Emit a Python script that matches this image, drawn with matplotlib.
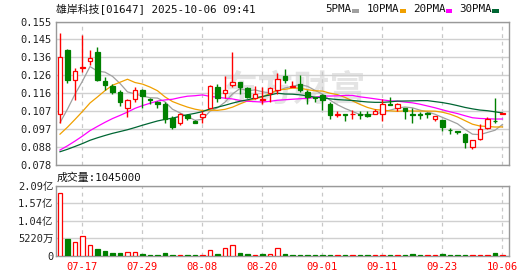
import matplotlib
matplotlib.use('Agg')
import matplotlib.pyplot as plt
import numpy as np
import pandas as pd
from matplotlib.patches import Rectangle

plt.rcParams['font.family'] = ['DejaVu Sans Mono', 'Noto Sans CJK SC']
plt.rcParams['font.size'] = 7.5

# daily candles 07-14 .. 10-06
opens = [0.1052, 0.1398, 0.1235, 0.1303, 0.1336, 0.1386, 0.1233, 0.1203, 0.1173, 0.1087,
         0.1132, 0.1185, 0.1135, 0.1119, 0.1105, 0.1034, 0.1007, 0.1047, 0.1016, 0.1039,
         0.1087, 0.1198, 0.1167, 0.1208, 0.1226, 0.1194, 0.1141, 0.1128, 0.1167, 0.1180,
         0.1256, 0.1199, 0.1215, 0.1173, 0.1144, 0.1153, 0.1105, 0.1048, 0.1052, 0.1052,
         0.1052, 0.1052, 0.1052, 0.1055, 0.1105, 0.1087, 0.1087, 0.1055, 0.1055, 0.1057,
         0.1029, 0.1023, 0.0968, 0.0960, 0.0945, 0.0878, 0.0919, 0.0981, 0.1018, 0.1055]
highs = [0.1487, 0.1402, 0.1301, 0.1478, 0.1398, 0.1413, 0.1254, 0.1217, 0.1180, 0.1135,
         0.1198, 0.1188, 0.1141, 0.1121, 0.1119, 0.1043, 0.1061, 0.1055, 0.1020, 0.1070,
         0.1208, 0.1212, 0.1256, 0.1386, 0.1226, 0.1198, 0.1206, 0.1198, 0.1198, 0.1274,
         0.1297, 0.1230, 0.1265, 0.1180, 0.1144, 0.1159, 0.1119, 0.1070, 0.1052, 0.1073,
         0.1070, 0.1070, 0.1079, 0.1132, 0.1144, 0.1114, 0.1087, 0.1084, 0.1066, 0.1066,
         0.1043, 0.1023, 0.0981, 0.0960, 0.0954, 0.0913, 0.1002, 0.1038, 0.1137, 0.1061]
lows = [0.1007, 0.1221, 0.1128, 0.1279, 0.1315, 0.1230, 0.1185, 0.1159, 0.1096, 0.1038,
        0.1119, 0.1087, 0.1105, 0.1087, 0.1007, 0.0972, 0.0993, 0.1020, 0.1006, 0.1004,
        0.1084, 0.1119, 0.1141, 0.1198, 0.1159, 0.1141, 0.1132, 0.1109, 0.1119, 0.1159,
        0.1221, 0.1198, 0.1173, 0.1109, 0.1119, 0.1073, 0.1029, 0.1038, 0.1016, 0.1025,
        0.1025, 0.1039, 0.1052, 0.1016, 0.1102, 0.1070, 0.1029, 0.1007, 0.1029, 0.1034,
        0.1016, 0.0960, 0.0949, 0.0949, 0.0869, 0.0865, 0.0913, 0.0972, 0.1006, 0.1052]
closes = [0.1358, 0.1235, 0.1286, 0.1308, 0.1354, 0.1235, 0.1208, 0.1173, 0.1118, 0.1127,
          0.1182, 0.1150, 0.1128, 0.1109, 0.1025, 0.0984, 0.1052, 0.1031, 0.1007, 0.1052,
          0.1203, 0.1141, 0.1183, 0.1226, 0.1198, 0.1146, 0.1162, 0.1132, 0.1194, 0.1244,
          0.1235, 0.1206, 0.1180, 0.1146, 0.1137, 0.1130, 0.1048, 0.1055, 0.1048, 0.1055,
          0.1048, 0.1041, 0.1070, 0.1109, 0.1102, 0.1105, 0.1070, 0.1048, 0.1046, 0.1055,
          0.1043, 0.0984, 0.0966, 0.0958, 0.0906, 0.0913, 0.0972, 0.1025, 0.1016, 0.1061]
# closes before 07-14 (estimated from where the MA lines start)
pre_close = [0.084, 0.083, 0.084, 0.083, 0.083, 0.084, 0.083, 0.083, 0.083, 0.083,
             0.078, 0.078, 0.077, 0.077, 0.078, 0.077, 0.077, 0.078, 0.077, 0.078,
             0.086, 0.087, 0.088, 0.090, 0.091, 0.087, 0.0886, 0.0956, 0.0965]

volume = [187e6, 51e6, 41e6, 58.6e6, 32e6, 20.5e6, 12.7e6, 8.8e6, 8.8e6, 11.7e6,
          11.7e6, 5.9e6, 2.9e6, 2.9e6, 8.8e6, 2.9e6, 2.9e6, 2.9e6, 2.9e6, 2.9e6,
          16.6e6, 5.9e6, 22.5e6, 31e6, 8.8e6, 5.9e6, 2.9e6, 5.9e6, 5.9e6, 22.5e6,
          5.9e6, 2.9e6, 2.9e6, 2.9e6, 2.9e6, 2.9e6, 2.9e6, 2.9e6, 2.9e6, 2.9e6,
          2.9e6, 2.9e6, 2.9e6, 2.9e6, 2.9e6, 2.9e6, 2.9e6, 5.9e6, 2.9e6, 2.9e6,
          2.9e6, 5.9e6, 2.9e6, 2.9e6, 2.9e6, 2.9e6, 2.9e6, 2.9e6, 8.8e6, 1.045e6]
# 1 = red bar, 0 = green bar
vol_up = [1, 0, 1, 1, 1, 0, 0, 0, 0, 1, 1, 0, 0, 0, 0, 0, 1, 0, 0, 1,
          1, 0, 1, 1, 0, 0, 1, 0, 1, 1, 0, 0, 0, 0, 0, 0, 0, 1, 0, 1,
          0, 0, 1, 1, 0, 1, 0, 0, 0, 1, 1, 0, 0, 0, 0, 1, 1, 1, 0, 1]

tick_pos = [3, 11, 19, 27, 35, 43, 51, 59]
tick_labels = ['07-17', '07-29', '08-08', '08-20', '09-01', '09-11', '09-23', '10-06']
price_ticks = [0.078, 0.088, 0.097, 0.107, 0.116, 0.126, 0.136, 0.145, 0.155]
vol_labels = ['0', '5220万', '1.04亿', '1.57亿', '2.09亿']

ma_periods = [5, 10, 20, 30]
ma_names = ['5PMA', '10PMA', '20PMA', '30PMA']
ma_colors = ['#a0a0a0', '#f0a000', '#ff00ff', '#006633']

RED = '#ff0000'
GREEN = '#008000'
W, H = 530, 276


def fx(px):
    return px / W


def fy(py):
    return 1 - py / H


n = len(closes)
x = np.arange(n)
o = np.array(opens)
c = np.array(closes)
up = c >= o
cols = [RED if u else GREEN for u in up]

fig = plt.figure(figsize=(W / 100, H / 100), dpi=100)
ax = fig.add_axes([fx(56), fy(165), (509 - 56) / W, (165 - 21.5) / H])
axv = fig.add_axes([fx(56), fy(255.5), (509 - 56) / W, (255.5 - 186) / H])

# watermark
ax.text(0.366, 0.52, '东方财富', transform=ax.transAxes, fontsize=26,
        family=['Noto Sans CJK SC'], weight='bold', color='#e4e4e4',
        va='center', ha='left', zorder=0.5)

# moving averages
full = pd.Series(pre_close + closes)
for p, col in zip(ma_periods, ma_colors):
    ma = full.rolling(p).mean().values[len(pre_close):]
    ax.plot(x, ma, color=col, lw=0.9, zorder=2)

# candles
ax.vlines(x, lows, highs, colors=cols, lw=1, zorder=3)
bottoms = np.minimum(o, c)
heights = np.maximum(np.abs(c - o), 0.0002)
ax.bar(x, heights, bottom=bottoms, width=0.66,
       color=['white' if u else GREEN for u in up],
       edgecolor=cols, linewidth=0.9, zorder=4)

# volume
vcols = [RED if u else GREEN for u in vol_up]
axv.bar(x, volume, width=0.6, color=['white' if u else GREEN for u in vol_up],
        edgecolor=vcols, linewidth=0.9, zorder=3)

for a in (ax, axv):
    a.set_xlim(-0.533, 59.87)
    a.set_xticks(tick_pos)
    a.tick_params(length=0, labelcolor='#222222')
    a.grid(axis='y', color='#d0d0d0', lw=1, ls='-')
    a.set_axisbelow(True)
    for xi in tick_pos:
        a.axvline(xi, color='#c8c8c8', lw=0.9, ls=(0, (3, 3)), zorder=1)
    for s in a.spines.values():
        s.set_color('#999999')
        s.set_linewidth(1.0)

ax.set_ylim(0.078, 0.155)
ax.set_yticks(np.linspace(0.078, 0.155, 9))
ax.set_yticklabels(['%.3f' % t for t in price_ticks])
ax.set_xticklabels([])
ax.tick_params(axis='y', pad=3)

axv.set_ylim(0, 208.8e6)
axv.set_yticks(np.linspace(0, 208.8e6, 5))
axv.set_yticklabels(vol_labels)
axv.set_xticklabels(tick_labels, color=RED)
axv.tick_params(axis='y', pad=2)
axv.tick_params(axis='x', pad=5, labelcolor=RED)

# header texts
fig.text(fx(56), fy(8.5), '雄岸科技[01647] 2025-10-06 09:41', va='center', ha='left',
         color='#111111', fontsize=7.8)
leg_x = [325.5, 367, 413, 459]
mark_x = [352, 399.5, 445.5, 492]
for name, col, tx, mx in zip(ma_names, ma_colors, leg_x, mark_x):
    fig.text(fx(tx), fy(9), name, va='center', ha='left', color='#111111', fontsize=7.8)
    fig.add_artist(Rectangle((fx(mx), fy(12.5)), 6.5 / W, 3.5 / H,
                             transform=fig.transFigure, color=col, lw=0))
fig.text(fx(57), fy(177.5), '成交量:1045000', va='center', ha='left',
         color='#111111', fontsize=7.8)

fig.savefig('out.png', dpi=100)
